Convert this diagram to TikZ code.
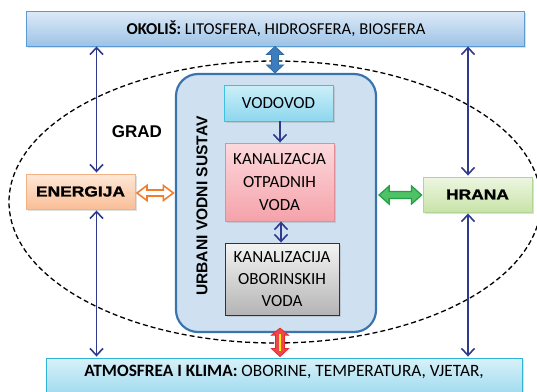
\documentclass[tikz,border=0pt]{standalone}
\usepackage{fontspec}
\setmainfont{Carlito}
\newfontfamily\arialb{Liberation Sans}
\newfontfamily\widebold[FakeStretch=1.2,FakeBold=1.5]{Liberation Sans}
\usetikzlibrary{arrows.meta,calc,shadows}
\definecolor{navyc}{HTML}{2F3A8C}
\definecolor{topA}{HTML}{DDEAF7}
\definecolor{topB}{HTML}{9DC3E6}
\definecolor{topD}{HTML}{5B9BD5}
\definecolor{botA}{HTML}{D8F1F9}
\definecolor{botB}{HTML}{8ED3EB}
\definecolor{botD}{HTML}{2FB4D8}
\definecolor{urbF}{HTML}{CFE1F1}
\definecolor{urbD}{HTML}{3A74AE}
\definecolor{vodA}{HTML}{CDEFF9}
\definecolor{vodB}{HTML}{8DD7EE}
\definecolor{vodD}{HTML}{3EC0DF}
\definecolor{pinkA}{HTML}{FCD9DD}
\definecolor{pinkB}{HTML}{F5A2AA}
\definecolor{pinkD}{HTML}{E58D97}
\definecolor{grayA}{HTML}{F4F4F4}
\definecolor{grayB}{HTML}{B4B4B4}
\definecolor{orA}{HTML}{FEE8D8}
\definecolor{orB}{HTML}{F9BE96}
\definecolor{orD}{HTML}{F4B183}
\definecolor{grA}{HTML}{EDF6E2}
\definecolor{grB}{HTML}{C8E3A8}
\definecolor{grD}{HTML}{B1D594}
\definecolor{orArrow}{HTML}{F07F2D}
\definecolor{grArrow}{HTML}{22A145}
\definecolor{grFill}{HTML}{4FC267}
\definecolor{blArrow}{HTML}{3B7DBF}
\definecolor{rdArrow}{HTML}{E8262C}
\begin{document}
\begin{tikzpicture}[x=1pt,y=-1pt,
  box/.style={draw, inner sep=0pt, line width=0.9pt, align=center,
    drop shadow={shadow xshift=1.5pt, shadow yshift=-1.5pt, opacity=0.25}},
  calib/.style={font=\fontsize{17}{23}\selectfont},
  navy/.style={draw=navyc, line width=1.5pt},
  barb/.style={-{Straight Barb[length=7pt,width=13pt,line width=1.6pt]}},
  dbarb/.style={{Straight Barb[length=7pt,width=13pt,line width=1.6pt]}-{Straight Barb[length=7pt,width=13pt,line width=1.6pt]}},
  boldhead/.style={font=\widebold\bfseries\fontsize{14.5}{17}\selectfont}
]
\useasboundingbox (0,0) rectangle (537,391);
\clip (0,0) rectangle (537,391);

% dashed ellipse (GRAD)
\draw[line width=1.3pt, dash pattern=on 5pt off 3pt] (275,202) ellipse [x radius=266pt, y radius=141pt];

% outer boxes
\node[box, draw=topD, top color=topA, bottom color=topB, minimum width=498pt, minimum height=35pt] (top) at (275,28.5) {};
\node[font=\fontsize{16.6}{18}\selectfont] at ([xshift=1pt]top.center) {\textbf{OKOLIŠ:} LITOSFERA, HIDROSFERA, BIOSFERA};
\node[box, draw=botD, top color=botA, bottom color=botB, minimum width=476pt, minimum height=48pt] (bot) at (284,382) {};
\node[font=\fontsize{17.3}{20}\selectfont] at ([yshift=-14.5pt]bot.north) {\textbf{ATMOSFREA I KLIMA:} OBORINE, TEMPERATURA, VJETAR,};

% urban water system
\node[draw=urbD, fill=urbF, line width=2.2pt, rounded corners=22pt, minimum width=200pt, minimum height=258pt, inner sep=0pt] (urb) at (276,203) {};
\node[rotate=90, font=\arialb\bfseries\fontsize{15.6}{18}\selectfont] (urbt) at (202,206) {URBANI VODNI SUSTAV};
\node[font=\arialb\bfseries\fontsize{17}{20}\selectfont] (grad) at (137,132) {GRAD};

\node[box, calib, draw=vodD, top color=vodA, bottom color=vodB, minimum width=109pt, minimum height=36pt] (vod) at (278.5,103) {VODOVOD};
\node[box, calib, draw=pinkD, top color=pinkA, bottom color=pinkB, minimum width=109pt, minimum height=78pt] (kan) at (279.5,182) {KANALIZACJA\\OTPADNIH\\VODA};
\node[box, font=\fontsize{17}{22}\selectfont, draw=black!80, top color=grayA, bottom color=grayB, minimum width=114pt, minimum height=72pt] (obo) at (282,279) {KANALIZACIJA\\OBORINSKIH\\VODA};

\node[box, boldhead, draw=orD, top color=orA, bottom color=orB, minimum width=109pt, minimum height=35pt] (en) at (80.5,191.5) {ENERGIJA};
\node[box, boldhead, draw=grD, top color=grA, bottom color=grB, minimum width=109pt, minimum height=35pt] (hr) at (477.5,194.5) {HRANA};

% thin navy arrows
\draw[navy, barb] (vod.south -| 280,0) -- (kan.north -| 280,0);
\draw[navy, dbarb] (kan.south -| 281,0) -- (obo.north -| 281,0);
\draw[navy, dbarb] ([xshift=16pt,yshift=1pt]en.north) -- ([xshift=16pt]en.north |- top.south);
\draw[navy, dbarb] ([xshift=16pt,yshift=-1pt]en.south) -- ([xshift=16pt,yshift=1pt]en.south |- bot.north);
\draw[navy, dbarb] ([xshift=-9.5pt,yshift=1pt]hr.north) -- ([xshift=-9.5pt]hr.north |- top.south);
\draw[navy, dbarb] ([xshift=-9.5pt,yshift=-1pt]hr.south) -- ([xshift=-9.5pt,yshift=1pt]hr.south |- bot.north);

% fat horizontal arrows
\path[draw=orArrow, fill=white, line width=1.6pt, line join=miter]
  let \p1=([xshift=1.5pt,yshift=-1.5pt]en.east), \p2=([xshift=-1.5pt]urb.west |- \p1) in
  (\x1,\y1) -- (\x1+10pt,\y1+7.5pt) -- (\x1+10pt,\y1+3pt) -- (\x2-10pt,\y1+3pt) -- (\x2-10pt,\y1+7.5pt)
  -- (\x2,\y1) -- (\x2-10pt,\y1-7.5pt) -- (\x2-10pt,\y1-3pt) -- (\x1+10pt,\y1-3pt) -- (\x1+10pt,\y1-7.5pt) -- cycle;
\path[draw=grArrow, fill=grFill, line width=1.3pt, line join=miter]
  let \p1=([xshift=2pt]urb.east |- 0,195), \p2=([xshift=-1pt]hr.west |- \p1) in
  (\x1,\y1) -- (\x1+10pt,\y1+9pt) -- (\x1+10pt,\y1+3.5pt) -- (\x2-10pt,\y1+3.5pt) -- (\x2-10pt,\y1+9pt)
  -- (\x2,\y1) -- (\x2-10pt,\y1-9pt) -- (\x2-10pt,\y1-3.5pt) -- (\x1+10pt,\y1-3.5pt) -- (\x1+10pt,\y1-9pt) -- cycle;

% fat vertical arrows
\path[draw=blArrow!85!black, fill=blArrow, line width=0.8pt, line join=miter]
  let \p1=([xshift=0pt]top.south), \p2=(urb.north -| \p1) in
  (\x1,\y1) -- (\x1+8.5pt,\y1-8pt) -- (\x1+3.5pt,\y1-8pt) -- (\x1+3.5pt,\y2+8pt) -- (\x1+8.5pt,\y2+8pt)
  -- (\x1,\y2) -- (\x1-8.5pt,\y2+8pt) -- (\x1-3.5pt,\y2+8pt) -- (\x1-3.5pt,\y1-8pt) -- (\x1-8.5pt,\y1-8pt) -- cycle;
\path[draw=rdArrow, fill=rdArrow!85, line width=0.8pt, line join=miter]
  let \p1=([xshift=4pt,yshift=5pt]urb.south), \p2=([yshift=1pt]bot.north -| \p1) in
  (\x1,\y1) -- (\x1+8.5pt,\y1-7pt) -- (\x1+4.5pt,\y1-7pt) -- (\x1+4.5pt,\y2+8pt) -- (\x1+8.5pt,\y2+8pt)
  -- (\x1,\y2) -- (\x1-8.5pt,\y2+8pt) -- (\x1-4.5pt,\y2+8pt) -- (\x1-4.5pt,\y1-7pt) -- (\x1-8.5pt,\y1-7pt) -- cycle;
\draw[yellow, line width=1.6pt] let \p1=([xshift=4pt,yshift=5pt]urb.south), \p2=([yshift=1pt]bot.north -| \p1) in
  (\x1,\y1-6pt) -- (\x1,\y2+6pt);
\end{tikzpicture}
\end{document}
